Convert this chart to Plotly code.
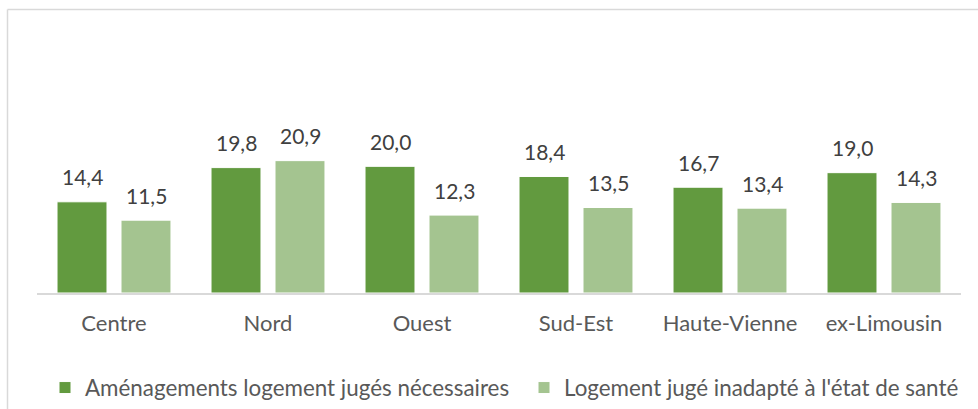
import plotly.graph_objects as go

categories = ["Centre", "Nord", "Ouest", "Sud-Est", "Haute-Vienne", "ex-Limousin"]
amenagements = [14.4, 19.8, 20.0, 18.4, 16.7, 19.0]
inadapte = [11.5, 20.9, 12.3, 13.5, 13.4, 14.3]
series_names = ["Aménagements logement jugés nécessaires", "Logement jugé inadapté à l'état de santé"]
colors = ["#629A3F", "#A4C490"]

FONT = "Lato, Carlito, Calibri, sans-serif"

def fmt(v):
    return f"{v:.1f}".replace(".", ",")

L, R, T, B = 37, 17, 103, 116
W, H = 978, 409
pw, ph = W - L - R, H - T - B

def px_x(px):
    return (px - L) / pw

def px_y(py):
    return (H - B - py) / ph

fig = go.Figure()
for i, (name, vals, col) in enumerate(zip(series_names, [amenagements, inadapte], colors)):
    fig.add_trace(go.Bar(
        x=categories, y=vals, name=name,
        marker=dict(color=col, line=dict(color="white", width=1)),
        hoverinfo="skip",
        legend="legend" if i == 0 else "legend2",
    ))

# data labels
annotations = []
for vals, shift in [(amenagements, -32), (inadapte, 32)]:
    for c, v in zip(categories, vals):
        annotations.append(dict(
            x=c, y=v, xref="x", yref="y", text=fmt(v), showarrow=False,
            xshift=shift, yshift=25, yanchor="middle",
            font=dict(family=FONT, size=21, color="#404040"),
        ))

legend_common = dict(
    orientation="h", xanchor="left", yanchor="middle",
    xref="container", yref="container",
    font=dict(family=FONT, size=22.4, color="#595959"),
    bgcolor="rgba(0,0,0,0)",
)

fig.update_layout(
    width=W, height=H,
    margin=dict(l=L, r=R, t=T, b=B, autoexpand=False),
    paper_bgcolor="white", plot_bgcolor="white",
    barmode="group", bargap=0.169, bargroupgap=0.219,
    showlegend=True,
    legend=dict(x=45 / W, y=1 - 388 / H, **legend_common),
    legend2=dict(x=524 / W, y=1 - 388 / H, **legend_common),
    xaxis=dict(
        showgrid=False, showline=True, linecolor="#D9D9D9", linewidth=2,
        ticks="", tickfont=dict(family=FONT, size=22, color="#595959"),
        ticklabelstandoff=10, fixedrange=True,
    ),
    yaxis=dict(
        range=[0, 30], showgrid=False, showline=False, zeroline=False,
        showticklabels=False, fixedrange=True,
    ),
    annotations=annotations,
    shapes=[
        dict(type="line", xref="paper", yref="paper",
             x0=px_x(7.5), x1=px_x(990), y0=px_y(9.5), y1=px_y(9.5),
             line=dict(color="#D9D9D9", width=1.5)),
        dict(type="line", xref="paper", yref="paper",
             x0=px_x(7.5), x1=px_x(7.5), y0=px_y(9.5), y1=px_y(420),
             line=dict(color="#D9D9D9", width=1.5)),
    ],
)

fig.write_html(
    "out.html",
    config={"displayModeBar": False},
    post_script="document.body.style.margin='0';document.body.style.overflow='hidden';",
)
